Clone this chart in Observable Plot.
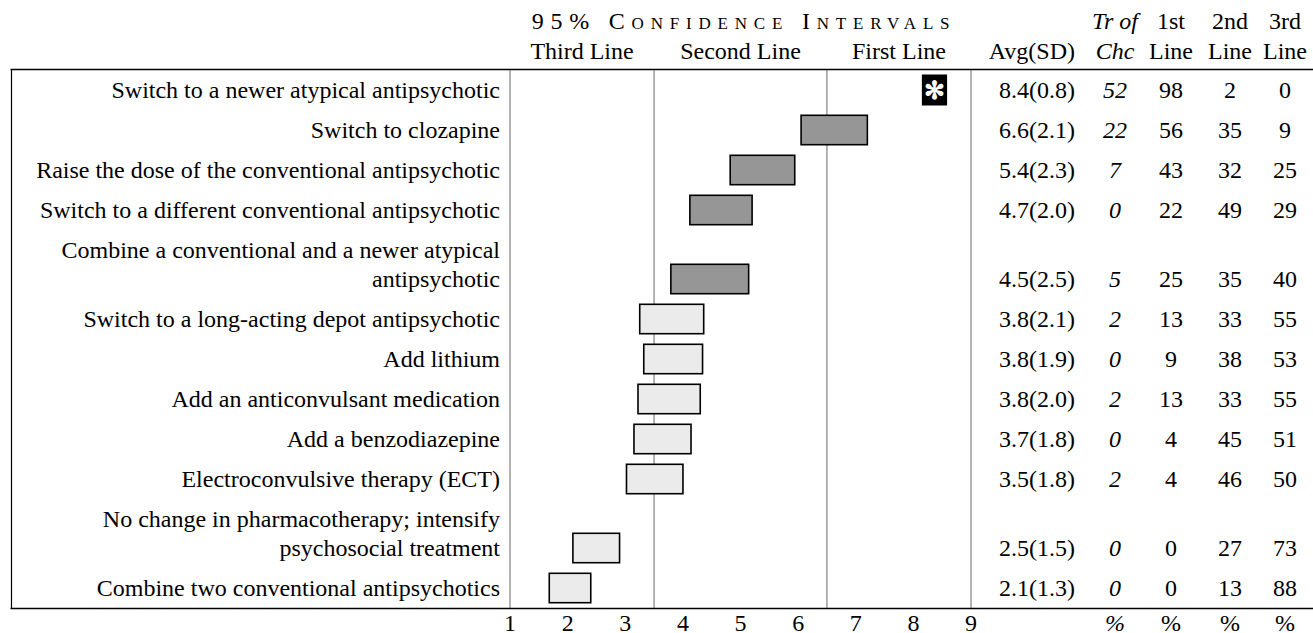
<!DOCTYPE html>
<html><head><meta charset="utf-8">
<script src="https://cdn.jsdelivr.net/npm/d3@7"></script>
<script src="https://cdn.jsdelivr.net/npm/@observablehq/plot@0.6"></script>
<style>body{margin:0;background:#fff}svg{display:block}svg text{font-family:"Liberation Serif",serif}</style>
</head><body><div id="chart"></div>
<script>
// ---- data ----
const treatments = [
  ["Switch to a newer atypical antipsychotic"],
  ["Switch to clozapine"],
  ["Raise the dose of the conventional antipsychotic"],
  ["Switch to a different conventional antipsychotic"],
  ["Combine a conventional and a newer atypical", "antipsychotic"],
  ["Switch to a long-acting depot antipsychotic"],
  ["Add lithium"],
  ["Add an anticonvulsant medication"],
  ["Add a benzodiazepine"],
  ["Electroconvulsive therapy (ECT)"],
  ["No change in pharmacotherapy; intensify", "psychosocial treatment"],
  ["Combine two conventional antipsychotics"]
];
const avgScore = [8.4, 6.6, 5.4, 4.7, 4.5, 3.8, 3.8, 3.8, 3.7, 3.5, 2.5, 2.1];
const sdScore  = [0.8, 2.1, 2.3, 2.0, 2.5, 2.1, 1.9, 2.0, 1.8, 1.8, 1.5, 1.3];
const ciLow    = [8.17, 6.06, 4.83, 4.13, 3.80, 3.26, 3.33, 3.23, 3.16, 3.03, 2.10, 1.69];
const ciHigh   = [8.58, 7.21, 5.95, 5.21, 5.15, 4.37, 4.35, 4.31, 4.15, 4.01, 2.91, 2.41];
const treatmentOfChoice = [52, 22, 7, 0, 5, 2, 0, 2, 0, 2, 0, 0];
const pctFirst  = [98, 56, 43, 22, 25, 13, 9, 13, 4, 4, 0, 0];
const pctSecond = [2, 35, 32, 49, 35, 33, 38, 33, 45, 46, 27, 13];
const pctThird  = [0, 9, 25, 29, 40, 55, 53, 55, 51, 50, 73, 88];
const regionBounds = [1, 3.5, 6.5, 9];
const regionNames = ["Third Line", "Second Line", "First Line"];
const xTicks = [1, 2, 3, 4, 5, 6, 7, 8, 9];
const chartTitle = "95% Confidence Intervals";
const headerTop = ["", "Tr of", "1st", "2nd", "3rd"];
const headerBottom = ["Avg(SD)", "Chc", "Line", "Line", "Line"];
const footerRow = ["", "%", "%", "%", "%"];
const starGlyph = "\u273B";

// ---- layout ----
const FONT = "Liberation Serif";
const FS = 24;
const lineStep = 0.725;
let cy = 0.525;
const rows = treatments.map((lines, i) => {
  if (i > 0) cy += 1 + lineStep * (lines.length - 1);
  const lo = ciLow[i];
  const tier = lo >= regionBounds[2] ? "First" : lo >= regionBounds[1] ? "Second" : "Third";
  return {i, lines, c: cy, avg: avgScore[i], sd: sdScore[i], lo, hi: ciHigh[i], tier,
    cols: [`${avgScore[i].toFixed(1)}(${sdScore[i].toFixed(1)})`, treatmentOfChoice[i], pctFirst[i], pctSecond[i], pctThird[i]]};
});
const yMax = cy + 0.5;
const labelLines = rows.flatMap(r => r.lines.map((t, j) => ({t, y: r.c - (r.lines.length - 1 - j) * lineStep})));
const regions = regionNames.map((name, k) => ({name, mid: (regionBounds[k] + regionBounds[k + 1]) / 2}));

const colDx = [104, 144, 200, 259, 314];
const colAnchor = ["end", "middle", "middle", "middle", "middle"];
const colItalic = [false, true, false, false, false];
const T = {fontFamily: FONT, fontSize: FS, fill: "black", lineAnchor: "middle"};

const tableMarks = [];
colDx.forEach((dx, k) => {
  const common = {...T, dx, textAnchor: colAnchor[k], fontStyle: colItalic[k] ? "italic" : "normal"};
  tableMarks.push(Plot.text(rows, {...common, frameAnchor: "right", y: "c", text: d => String(d.cols[k])}));
  tableMarks.push(Plot.text([headerTop[k]], {...common, frameAnchor: "top-right", dy: -48.4, text: d => d}));
  tableMarks.push(Plot.text([headerBottom[k]], {...common, frameAnchor: "top-right", dy: -18.4, text: d => d}));
  if (footerRow[k]) tableMarks.push(Plot.text([footerRow[k]], {...common, frameAnchor: "bottom-right", lineAnchor: "top", dy: 5, text: d => d}));
});

const chart = Plot.plot({
  width: 1313, height: 633,
  marginLeft: 509.5, marginRight: 342.5, marginTop: 69, marginBottom: 25,
  style: `font-family: 'Liberation Serif', serif; font-size: ${FS}px; background: white; color: black; overflow: visible;`,
  x: {domain: [1, 9], ticks: xTicks, tickSize: 0, tickPadding: 5, tickFormat: d => String(d), label: null},
  y: {domain: [0, yMax], reverse: true, axis: null},
  color: {domain: ["First", "Second", "Third"], range: ["#000000", "#969696", "#ebebeb"]},
  marks: [
    Plot.ruleX(regionBounds, {stroke: "#828282", strokeWidth: 1.2}),
    Plot.ruleY([0, yMax], {stroke: "black", strokeWidth: 1.6, insetLeft: -499, insetRight: -343}),
    Plot.ruleX([regionBounds[0]], {stroke: "black", strokeWidth: 1.2, dx: -498.5}),
    Plot.rect(rows, {x1: "lo", x2: "hi", y1: d => d.c - 0.3675, y2: d => d.c + 0.3675,
      fill: "tier", stroke: "black", strokeWidth: 1.6}),
    Plot.text(rows.filter(r => r.tier === "First"), {x: d => (d.lo + d.hi) / 2, y: "c", text: () => starGlyph,
      fill: "white", fontSize: 25, fontFamily: "DejaVu Sans", fontWeight: "bold", lineAnchor: "middle"}),
    Plot.text(labelLines, {...T, y: "y", text: "t", frameAnchor: "left", dx: -10, textAnchor: "end"}),
    Plot.text(regions, {...T, x: "mid", text: "name", frameAnchor: "top", dy: -18.4}),
    Plot.text([chartTitle], {...T, x: () => (regionBounds[0] + regionBounds[3]) / 2, text: d => d, frameAnchor: "top", dy: -48.4,
      fontVariant: "small-caps", dx: 3.5})
  ].concat(tableMarks)
});
d3.select(chart).selectAll("text").filter(function () { return this.textContent === chartTitle; })
  .attr("letter-spacing", "6.8px");
document.getElementById("chart").appendChild(chart);
</script>
</body></html>
